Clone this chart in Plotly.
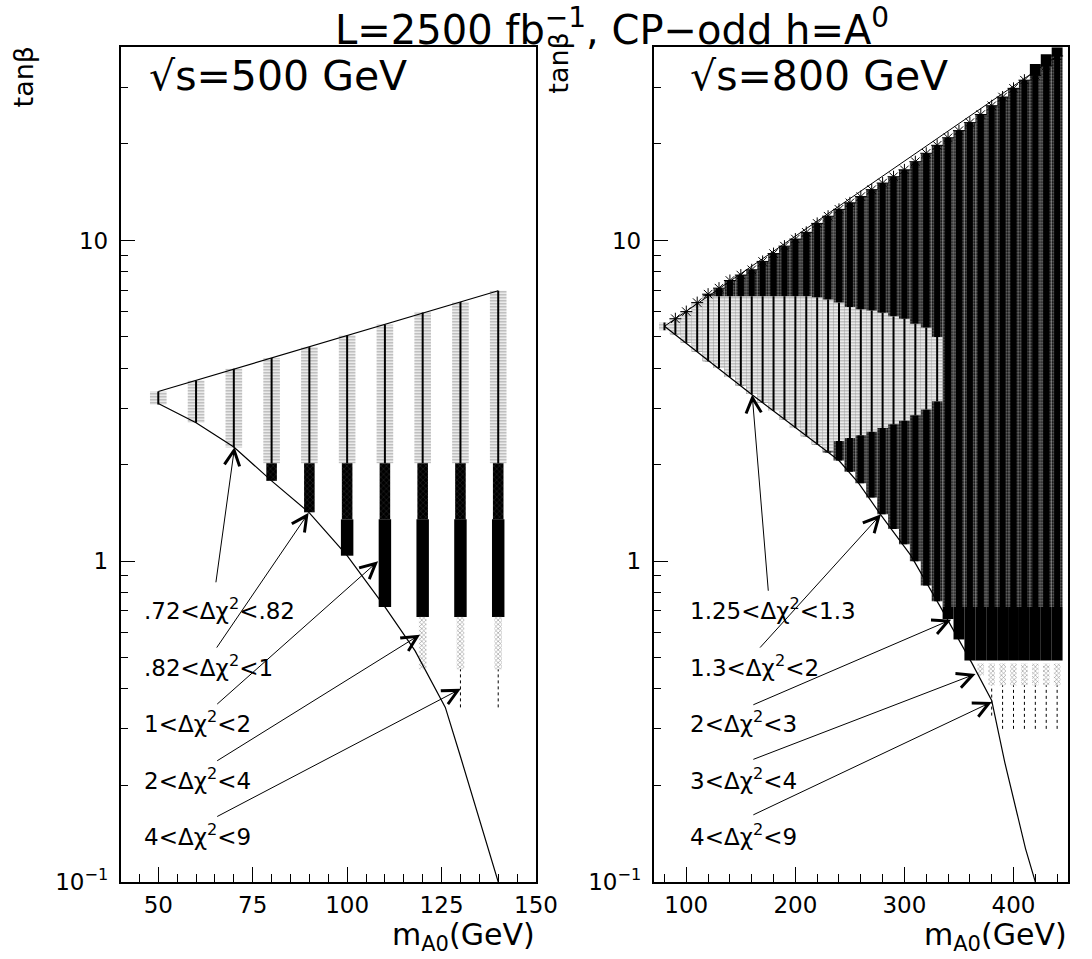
import numpy as np
import plotly.graph_objects as go

# ---------------- data: left panel (sqrt(s)=500 GeV) ----------------
L_mass = [50, 60, 70, 80, 90, 100, 110, 120, 130, 140]
L_c1_lo = [3.08, 2.70, 2.26, 2.02, 2.02, 2.02, 2.02, 2.02, 2.02, 2.02]     # .72<dchi2<.82
L_c1_hi = [3.38, 3.66, 3.98, 4.30, 4.65, 5.06, 5.47, 5.96, 6.43, 6.97]
L_c2_mass = [80, 90, 100, 110, 120, 130, 140]                               # .82<dchi2<1
L_c2_lo = [1.78, 1.42, 1.35, 1.35, 1.35, 1.35, 1.35]
L_c2_hi = [2.02, 2.02, 2.02, 2.02, 2.02, 2.02, 2.02]
L_c3_mass = [100, 110, 120, 130, 140]                                       # 1<dchi2<2
L_c3_lo = [1.04, 0.72, 0.67, 0.67, 0.67]
L_c3_hi = [1.35, 1.35, 1.35, 1.35, 1.35]
L_c4_mass = [120, 130, 140]                                                 # 2<dchi2<4
L_c4_lo = [0.46, 0.46, 0.46]
L_c4_hi = [0.67, 0.67, 0.67]
L_c5_mass = [130, 140]                                                      # 4<dchi2<9
L_c5_lo = [0.35, 0.35]
L_c5_hi = [0.46, 0.46]
L_upper_x = [50, 140]
L_upper_y = [3.38, 6.97]
L_lower_x = [50, 60, 70, 80, 90, 100, 110, 118, 126, 130, 140]
L_lower_y = [3.10, 2.70, 2.27, 1.78, 1.415, 1.04, 0.72, 0.525, 0.35, 0.246, 0.1]

# ---------------- data: right panel (sqrt(s)=800 GeV) ----------------
R_dark_mass = [90, 100, 110, 120, 130, 140, 150, 160, 170, 180, 190, 200, 210, 220, 230, 240, 250, 260,
               270, 280, 290, 300, 310, 320, 330, 340, 350, 360, 370, 380, 390, 400, 410, 420, 430, 440]
R_dark_lo = [5.1, 4.8, 4.5, 4.2, 4.0, 3.75, 3.53, 3.32, 3.12, 2.94, 2.77, 2.6, 2.45, 2.31, 2.18, 2.06, 1.9, 1.75,
             1.58, 1.40, 1.26, 1.13, 1.0, 0.84, 0.75, 0.72, 0.72, 0.72, 0.72, 0.72, 0.72, 0.72, 0.72, 0.72, 0.72, 0.72]
R_dark_hi = [5.7, 6.0, 6.4, 6.8, 7.1, 7.5, 7.8, 8.1, 8.6, 9.1, 9.6, 10.1, 10.6, 11.3, 11.9, 12.5, 13.1, 13.7,
             14.4, 15.1, 15.8, 16.6, 17.6, 18.7, 19.8, 20.9, 22.0, 23.3, 24.7, 26.3, 28.0, 29.8, 31.6, 32.7, 35.0, 37.6]
R_light_mass = [80, 90, 100, 110, 120, 130, 140, 150, 160, 170, 180, 190, 200, 210, 220, 230, 240, 250, 260,
                270, 280, 290, 300, 310, 320, 330]
R_light_lo = [5.25, 5.1, 4.8, 4.5, 4.2, 4.0, 3.75, 3.53, 3.32, 3.12, 2.94, 2.77, 2.6, 2.45, 2.31, 2.2, 2.37, 2.42,
              2.47, 2.53, 2.6, 2.67, 2.74, 2.85, 2.97, 3.15]
R_light_hi = [5.55, 5.7, 6.0, 6.4, 6.7, 6.7, 6.7, 6.7, 6.7, 6.7, 6.7, 6.7, 6.7, 6.7, 6.65, 6.55, 6.4, 6.2,
              6.1, 6.05, 5.95, 5.8, 5.7, 5.5, 5.35, 5.0]
R_black_mass = [340, 350, 360, 370, 380, 390, 400, 410, 420, 430, 440, 420, 430, 440]
R_black_lo = [0.66, 0.57, 0.49, 0.49, 0.49, 0.49, 0.49, 0.49, 0.49, 0.49, 0.49, 32.7, 35.0, 37.6]
R_black_hi = [0.72, 0.72, 0.72, 0.72, 0.72, 0.72, 0.72, 0.72, 0.72, 0.72, 0.72, 35.5, 38.1, 40.0]
R_xh_mass = [370, 380, 390, 400, 410, 420, 430, 440]
R_xh_lo = [0.44, 0.41, 0.41, 0.41, 0.41, 0.41, 0.41, 0.41]
R_xh_hi = [0.48, 0.48, 0.48, 0.48, 0.48, 0.48, 0.48, 0.48]
R_dot_mass = [380, 390, 400, 410, 420, 430, 440]
R_dot_lo = [0.33, 0.30, 0.30, 0.30, 0.30, 0.30, 0.30]
R_dot_hi = [0.41, 0.41, 0.41, 0.41, 0.41, 0.41, 0.41]
R_upper_x = [80, 440]
R_upper_y = [5.4, 37.6]
R_lower_x = [80, 160, 240, 258, 278, 306, 334, 362, 380, 392, 411, 420]
R_lower_y = [5.4, 3.31, 2.06, 1.75, 1.40, 1.04, 0.71, 0.48, 0.368, 0.236, 0.127, 0.1]

# labels / arrows
L_labels = [".72<Δχ<sup>2</sup><.82", ".82<Δχ<sup>2</sup><1", "1<Δχ<sup>2</sup><2",
            "2<Δχ<sup>2</sup><4", "4<Δχ<sup>2</sup><9"]
R_labels = ["1.25<Δχ<sup>2</sup><1.3", "1.3<Δχ<sup>2</sup><2", "2<Δχ<sup>2</sup><3",
            "3<Δχ<sup>2</sup><4", "4<Δχ<sup>2</sup><9"]
label_y = [0.707, 0.472, 0.315, 0.209, 0.140]
L_label_x = 45.7
R_label_x = 101.8
L_tail_x = [65.2, 65.2, 65.2, 65.2, 65.2]
L_tail_y = [0.85, 0.532, 0.355, 0.237, 0.159]
L_head_x = [70.2, 89.8, 108.2, 119.3, 130.1]
L_head_y = [2.27, 1.415, 1.0, 0.59, 0.40]
R_tail_x = [175.3, 166.4, 160.1, 160.1, 160.1]
R_tail_y = [0.80, 0.532, 0.355, 0.24, 0.161]
R_head_x = [160.4, 278.5, 342.8, 365.2, 380.1]
R_head_y = [3.31, 1.40, 0.657, 0.445, 0.364]

FONT = "DejaVu Sans"
fig = go.Figure()


def rng_bar(xs, lo, hi, width, xa, ya, color="black", pattern=None):
    lo = np.array(lo, float)
    hi = np.array(hi, float)
    m = dict(color=color, line=dict(width=0))
    if pattern is not None:
        m["pattern"] = pattern
    fig.add_trace(go.Bar(x=xs, y=hi - lo, base=lo, width=width, marker=m,
                         xaxis=xa, yaxis=ya, hoverinfo="skip"))


def segs(xs, lo, hi, xa, ya, width=1, dash="solid", color="black"):
    X, Y = [], []
    for x, a, b in zip(xs, lo, hi):
        X += [x, x, None]
        Y += [a, b, None]
    fig.add_trace(go.Scatter(x=X, y=Y, mode="lines", line=dict(color=color, width=width, dash=dash),
                             xaxis=xa, yaxis=ya, hoverinfo="skip"))


hatch_h = dict(shape="-", fgcolor="#555555", bgcolor="white", size=3, solidity=0.5)
dark_p = dict(shape=".", fgcolor="#ffffff", bgcolor="black", size=3, solidity=0.45)
star_p = dict(shape="x", fgcolor="#8a8a8a", bgcolor="#000000", size=4, solidity=0.15)
xh_p = dict(shape="x", fgcolor="#222222", bgcolor="white", size=3, solidity=0.35)

# ---- left panel
rng_bar(L_mass, L_c1_lo, L_c1_hi, 4.4, "x", "y", pattern=hatch_h)
segs(L_mass, L_c1_lo, L_c1_hi, "x", "y", width=2)
rng_bar(L_c2_mass, L_c2_lo, L_c2_hi, 2.8, "x", "y", pattern=star_p)
rng_bar(L_c3_mass, L_c3_lo, L_c3_hi, 3.3, "x", "y")
rng_bar(L_c4_mass, L_c4_lo, L_c4_hi, 2.0, "x", "y", pattern=xh_p)
segs(L_c5_mass, L_c5_lo, L_c5_hi, "x", "y", width=1, dash="dot")
fig.add_trace(go.Scatter(x=L_upper_x, y=L_upper_y, mode="lines", line=dict(color="black", width=1.2),
                         xaxis="x", yaxis="y", hoverinfo="skip"))
fig.add_trace(go.Scatter(x=L_lower_x, y=L_lower_y, mode="lines", line=dict(color="black", width=1.2),
                         xaxis="x", yaxis="y", hoverinfo="skip"))

# ---- right panel
rng_bar(R_dark_mass, R_dark_lo, R_dark_hi, 10, "x2", "y2", pattern=dark_p)
rng_bar(R_dark_mass, R_dark_lo, R_dark_hi, 5.5, "x2", "y2")
rng_bar(R_light_mass, R_light_lo, R_light_hi, 10, "x2", "y2", pattern=hatch_h)
segs(R_light_mass, R_light_lo, R_light_hi, "x2", "y2", width=2)
fig.add_trace(go.Scatter(x=R_dark_mass, y=R_dark_hi, mode="markers",
                         marker=dict(symbol="asterisk-open", size=10, color="black",
                                     line=dict(color="black", width=1)),
                         xaxis="x2", yaxis="y2", hoverinfo="skip"))
rng_bar(R_black_mass, R_black_lo, R_black_hi, 10, "x2", "y2")
rng_bar(R_xh_mass, R_xh_lo, R_xh_hi, 6, "x2", "y2", pattern=xh_p)
segs(R_dot_mass, R_dot_lo, R_dot_hi, "x2", "y2", width=1, dash="dot")
fig.add_trace(go.Scatter(x=R_upper_x, y=R_upper_y, mode="lines", line=dict(color="black", width=1),
                         xaxis="x2", yaxis="y2", hoverinfo="skip"))
fig.add_trace(go.Scatter(x=R_lower_x, y=R_lower_y, mode="lines", line=dict(color="black", width=1.2),
                         xaxis="x2", yaxis="y2", hoverinfo="skip"))

# ---- annotations
ann = []
lg = np.log10
for i in range(5):
    ann.append(dict(xref="x", yref="y", x=L_label_x, y=lg(label_y[i]), text=L_labels[i], showarrow=False,
                    xanchor="left", yanchor="middle", font=dict(family=FONT, size=23, color="black")))
    ann.append(dict(xref="x2", yref="y2", x=R_label_x, y=lg(label_y[i]), text=R_labels[i], showarrow=False,
                    xanchor="left", yanchor="middle", font=dict(family=FONT, size=23, color="black")))
    ann.append(dict(xref="x", yref="y", x=L_head_x[i], y=lg(L_head_y[i]), axref="x", ayref="y",
                    ax=L_tail_x[i], ay=lg(L_tail_y[i]), text="", showarrow=True, arrowhead=5,
                    arrowsize=3, arrowwidth=1, arrowcolor="black", standoff=0))
    ann.append(dict(xref="x2", yref="y2", x=R_head_x[i], y=lg(R_head_y[i]), axref="x2", ayref="y2",
                    ax=R_tail_x[i], ay=lg(R_tail_y[i]), text="", showarrow=True, arrowhead=5,
                    arrowsize=3, arrowwidth=1, arrowcolor="black", standoff=0))

ann.append(dict(xref="x", yref="y", x=47, y=lg(32.5), text="√s=500 GeV", showarrow=False,
                xanchor="left", yanchor="middle", font=dict(family=FONT, size=41, color="black")))
ann.append(dict(xref="x2", yref="y2", x=101.8, y=lg(32.5), text="√s=800 GeV", showarrow=False,
                xanchor="left", yanchor="middle", font=dict(family=FONT, size=41, color="black")))
ann.append(dict(xref="paper", yref="paper", x=625 / 1092, y=1 - 27 / 959,
                text="L=2500 fb<sup>−1</sup>, CP−odd h=A<sup>0</sup>", showarrow=False,
                xanchor="center", yanchor="middle", font=dict(family=FONT, size=40, color="black")))
ann.append(dict(xref="paper", yref="paper", x=24 / 1092, y=1 - 78 / 959, text="tanβ", textangle=-90,
                showarrow=False, xanchor="center", yanchor="middle", font=dict(family=FONT, size=27, color="black")))
ann.append(dict(xref="paper", yref="paper", x=570 / 1092, y=1 - 64 / 959, text="tanβ", textangle=-90,
                showarrow=False, xanchor="center", yanchor="middle", font=dict(family=FONT, size=27, color="black")))
ann.append(dict(xref="paper", yref="paper", x=548 / 1092, y=-12 / 959, text="m<sub>A0</sub>(GeV)",
                showarrow=False, xanchor="right", yanchor="bottom", font=dict(family=FONT, size=30, color="black")))
ann.append(dict(xref="paper", yref="paper", x=1091 / 1092, y=-12 / 959, text="m<sub>A0</sub>(GeV)",
                showarrow=False, xanchor="right", yanchor="bottom", font=dict(family=FONT, size=30, color="black")))

yt = [0.1, 1, 10]
ytt = ["10<sup>−1</sup>", "1", "10"]
ymin = [0.2, 0.3, 0.4, 0.5, 0.6, 0.7, 0.8, 0.9, 2, 3, 4, 5, 6, 7, 8, 9, 20, 30, 40]
ydom = [(959 - 894) / 959, (959 - 48) / 959]
yrange = [-1, np.log10(40)]
tickfont = dict(family=FONT, size=23, color="black")


def yax(anchor):
    return dict(type="log", range=yrange, domain=ydom, anchor=anchor, tickvals=yt, ticktext=ytt,
                ticks="inside", ticklen=15, tickwidth=1, tickcolor="black",
                minor=dict(tickvals=ymin, ticks="inside", ticklen=8, tickwidth=1, tickcolor="black"),
                showline=True, linecolor="black", linewidth=1.5, mirror=True, showgrid=False,
                zeroline=False, tickfont=tickfont, ticklabelstandoff=6)


fig.update_layout(
    width=1092, height=959, autosize=False, margin=dict(l=0, r=0, t=0, b=0),
    paper_bgcolor="white", plot_bgcolor="white", showlegend=False, barmode="overlay",
    xaxis=dict(domain=[123 / 1092, 547 / 1092], range=[40, 150], anchor="y",
               tickvals=[50, 75, 100, 125, 150], ticks="inside", ticklen=15, tickwidth=1, tickcolor="black",
               minor=dict(tickvals=[45, 55, 60, 65, 70, 80, 85, 90, 95, 105, 110, 115, 120, 130, 135, 140, 145],
                          ticks="inside", ticklen=8, tickwidth=1, tickcolor="black"),
               showline=True, linecolor="black", linewidth=1.5, mirror=True, showgrid=False, zeroline=False,
               tickfont=tickfont, ticklabelstandoff=2),
    yaxis=yax("x"),
    xaxis2=dict(domain=[667 / 1092, 1090 / 1092], range=[70, 450], anchor="y2",
                tickvals=[100, 200, 300, 400], ticks="inside", ticklen=15, tickwidth=1, tickcolor="black",
                minor=dict(tickvals=[80, 120, 140, 160, 180, 220, 240, 260, 280, 320, 340, 360, 380, 420, 440],
                           ticks="inside", ticklen=8, tickwidth=1, tickcolor="black"),
                showline=True, linecolor="black", linewidth=1.5, mirror=True, showgrid=False, zeroline=False,
                tickfont=tickfont, ticklabelstandoff=2),
    yaxis2=yax("x2"),
    annotations=ann,
)

fig.write_html("out.html")
